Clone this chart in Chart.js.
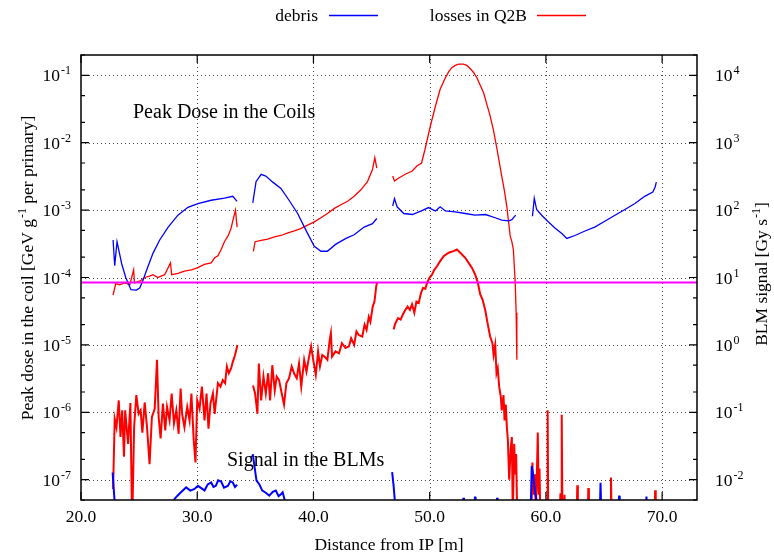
<!DOCTYPE html>
<html>
<head>
<meta charset="utf-8">
<script src="https://cdn.jsdelivr.net/npm/chart.js@4.4.1/dist/chart.umd.min.js"></script>
<style>
  html, body { margin: 0; padding: 0; background: #fff; }
  #wrap { width: 774px; height: 553px; }
</style>
</head>
<body>
<div id="wrap"><canvas id="myChart" width="774" height="553"></canvas></div>
<script>
// peak dose in the coils, debris (left axis, GeV/g per primary); null = gap between magnets
const debrisCoilX = [22.76, 22.9, 23.1, 23.5, 23.85, 24.3, 24.76, 25.05, 25.3, 25.77, 26.2, 26.77, 27.5, 28.34, 29.2, 30.06, 31.2, 32.34, 33.06, 33.43,
  34.1,
  34.78, 35.06, 35.5, 35.9, 36.5, 37.2, 37.9, 38.64, 39.36, 40.07, 40.65, 41.2, 41.9, 42.8, 43.5, 44.36, 45.08, 45.45,
  46.1,
  46.82, 46.97, 47.2, 47.77, 48.5, 49.34, 49.9, 50.5, 50.9, 51.35, 52.2, 53.06, 53.9, 54.8, 55.64, 56.2, 56.8, 57.07, 57.4,
  58.1,
  58.84, 59.0, 59.2, 59.64, 60.2, 60.8, 61.37, 61.8, 62.5, 63.36, 64.2, 65.1, 65.94, 66.8, 67.66, 68.5, 69.2, 69.4, 69.5]
const debrisCoilY = [3.6e-4, 1.5e-4, 3.4e-4, 1.6e-4, 1.0e-4, 6.6e-5, 6.5e-5, 7.0e-5, 8.8e-5, 1.47e-4, 2.3e-4, 3.6e-4, 5.6e-4, 8.4e-4, 1.1e-3, 1.25e-3, 1.4e-3, 1.5e-3, 1.6e-3, 1.35e-3,
  null,
  1.28e-3, 2.64e-3, 3.4e-3, 3.2e-3, 2.6e-3, 2.1e-3, 1.4e-3, 8.9e-4, 5.0e-4, 2.9e-4, 2.45e-4, 2.45e-4, 3.1e-4, 3.8e-4, 4.3e-4, 5.6e-4, 6.3e-4, 7.5e-4,
  null,
  1.15e-3, 1.48e-3, 1.12e-3, 8.9e-4, 8.6e-4, 9.8e-4, 1.09e-3, 9.7e-4, 1.12e-3, 9.7e-4, 9.4e-4, 8.9e-4, 8.4e-4, 8.6e-4, 7.7e-4, 7.1e-4, 6.9e-4, 7.2e-4, 8.4e-4,
  null,
  8.1e-4, 1.5e-3, 1.02e-3, 8.4e-4, 6.7e-4, 5.4e-4, 4.5e-4, 3.8e-4, 4.2e-4, 4.9e-4, 5.6e-4, 6.9e-4, 8.4e-4, 1.02e-3, 1.25e-3, 1.6e-3, 1.85e-3, 2.2e-3, 2.6e-3]

// peak dose in the coils, losses in Q2B (left axis)
const lossCoilX = [22.76, 22.99, 23.33, 23.76, 24.2, 24.53, 24.6, 25.05, 25.48, 25.9, 26.2, 26.6, 27.2, 27.7, 27.8, 28.34, 28.9, 29.5, 30.06, 30.6, 31.2, 31.5, 31.78, 32.06, 32.34, 32.64, 32.9, 33.15, 33.29, 33.43,
  34.1,
  34.83, 34.98, 35.5, 36.07, 36.64, 37.2, 37.8, 38.35, 38.9, 39.5, 40.07, 40.64, 41.2, 41.8, 42.36, 42.94, 43.5, 44.08, 44.65, 45.08, 45.28, 45.45,
  46.1,
  46.82, 46.97, 47.34, 47.9, 48.5, 48.9, 49.3, 49.6, 50.06, 50.5, 50.9, 51.35, 51.63, 51.9, 52.2, 52.5, 52.9, 53.2, 53.5, 53.78, 54.06, 54.64, 54.92, 55.2, 55.5, 55.8, 56.0, 56.2, 56.44, 56.64, 56.93, 57.07, 57.2, 57.36, 57.44, 57.5]
const lossCoilY = [5.5e-5, 8.1e-5, 7.8e-5, 8.3e-5, 7.8e-5, 1.3e-4, 8.3e-5, 8.8e-5, 1.0e-4, 1.05e-4, 1.1e-4, 1.0e-4, 1.1e-4, 1.65e-4, 1.1e-4, 1.15e-4, 1.24e-4, 1.3e-4, 1.4e-4, 1.56e-4, 1.65e-4, 1.96e-4, 2.1e-4, 2.6e-4, 3.4e-4, 4.1e-4, 5.3e-4, 8.0e-4, 1.0e-3, 5.6e-4,
  null,
  2.45e-4, 3.4e-4, 3.55e-4, 3.7e-4, 4.0e-4, 4.2e-4, 4.6e-4, 4.9e-4, 5.3e-4, 6.0e-4, 6.7e-4, 7.7e-4, 8.9e-4, 1.06e-3, 1.2e-3, 1.35e-3, 1.6e-3, 2.0e-3, 2.65e-3, 4.0e-3, 6.0e-3, 4.2e-3,
  null,
  3.2e-3, 2.7e-3, 3.0e-3, 3.4e-3, 3.8e-3, 4.5e-3, 5.0e-3, 8.0e-3, 1.77e-2, 3.5e-2, 6.2e-2, 9.2e-2, 0.112, 0.13, 0.14, 0.146, 0.146, 0.14, 0.125, 0.11, 9.2e-2, 5.5e-2, 3.7e-2, 2.5e-2, 1.5e-2, 7.9e-3, 5.0e-3, 3.2e-3, 1.9e-3, 1.12e-3, 4.1e-4, 3.4e-4, 2.6e-4, 8.3e-5, 3.0e-5, 6.0e-6]

// BLM signal, losses in Q2B (right axis, Gy/s)
const lossBlmX = [22.76, 22.9, 23.05, 23.25, 23.4, 23.54, 23.7, 23.8, 24.05, 24.25, 24.4, 24.57, 24.76, 24.96, 25.13, 25.28, 25.48, 25.68, 25.9, 26.1, 26.34, 26.54, 26.68, 26.85, 27.05, 27.25, 27.4, 27.62, 27.8, 28.0, 28.2, 28.4, 28.57, 28.7, 28.9, 29.14, 29.34, 29.5, 29.7, 29.85, 30.0, 30.2, 30.4, 30.63, 30.8, 30.97, 31.14, 31.35, 31.5, 31.78, 32.0, 32.2, 32.4, 32.55, 32.72, 32.92, 33.06, 33.25, 33.46,
  34.1,
  34.8, 34.98, 35.18, 35.3, 35.5, 35.7, 35.9, 36.1, 36.27, 36.46, 36.67, 36.84, 37.04, 37.27, 37.47, 37.67, 37.9, 38.13, 38.33, 38.56, 38.76, 38.95, 39.2, 39.4, 39.6, 39.8, 39.98, 40.2, 40.4, 40.56, 40.76, 40.96, 41.2, 41.4, 41.5, 41.6, 41.9, 42.2, 42.45, 42.76, 43.05, 43.24, 43.5, 43.7, 43.9, 44.2, 44.4, 44.57, 44.76, 44.9, 45.1, 45.25, 45.4, 45.47,
  46.1,
  46.9, 47.05, 47.28, 47.5, 47.68, 47.9, 48.1, 48.3, 48.48, 48.68, 48.86, 49.06, 49.25, 49.43, 49.63, 49.77, 50.0, 50.2, 50.4, 50.63, 50.9, 51.2, 51.63, 52.06, 52.34, 52.63, 53.06, 53.35, 53.63, 53.92, 54.15, 54.35, 54.55, 54.78, 54.98, 55.2, 55.4, 55.5, 55.64, 55.75, 55.86, 55.98, 56.12, 56.2, 56.35, 56.44, 56.55, 56.64, 56.73, 56.84, 56.98, 57.07, 57.15, 57.27, 57.36, 57.44, 57.53,
  58.75, 58.84, 58.9, 59.05, 59.12, 59.2, 59.3, 59.38, 59.45, 59.52, 60.1, 60.15, 60.2, 61.2, 61.25, 61.3, 61.36, 61.42, 61.55, 61.6, 61.65, 62.65, 62.7, 62.75, 63.6, 63.65, 63.7, 65.55, 65.6, 65.65, 69.35, 69.4, 69.45]
const lossBlmY = [0.0073, 0.08, 0.06, 0.15, 0.043, 0.107, 0.022, 0.107, 0.034, 0.137, 0.002, 0.06, 0.18, 0.095, 0.107, 0.05, 0.14, 0.06, 0.017, 0.085, 0.113, 0.6, 0.085, 0.041, 0.135, 0.054, 0.12, 0.076, 0.19, 0.068, 0.107, 0.048, 0.225, 0.095, 0.06, 0.12, 0.076, 0.19, 0.038, 0.018, 0.15, 0.113, 0.24, 0.076, 0.19, 0.057, 0.135, 0.19, 0.095, 0.27, 0.24, 0.3, 0.27, 0.48, 0.38, 0.45, 0.56, 0.7, 1.0,
  null,
  0.25, 0.19, 0.095, 0.53, 0.15, 0.34, 0.19, 0.38, 0.15, 0.5, 0.21, 0.34, 0.3, 0.19, 0.13, 0.27, 0.32, 0.48, 0.38, 0.32, 0.53, 0.24, 0.6, 0.4, 0.63, 0.95, 0.6, 0.36, 0.8, 0.48, 0.71, 0.67, 0.6, 1.19, 1.5, 0.67, 0.8, 0.75, 1.06, 0.9, 0.95, 1.26, 1.0, 1.58, 1.4, 1.33, 2.0, 1.67, 2.6, 2.2, 3.7, 4.4, 7.4, 8.4,
  null,
  1.7, 2.1, 2.5, 2.37, 2.8, 3.3, 3.7, 3.3, 4.0, 3.0, 4.4, 4.2, 5.9, 7.0, 6.8, 8.3, 10, 11, 13, 14.7, 17.5, 20.7, 23.3, 24.6, 26, 23.3, 19.6, 16.5, 14, 11, 8.3, 5.6, 4.7, 3.3, 2.1, 1.33, 1.06, 0.71, 1.0, 0.38, 0.45, 0.24, 0.17, 0.107, 0.18, 0.076, 0.13, 0.06, 0.038, 0.01, 0.03, 0.043, 0.003, 0.034, 0.012, 0.024, 0.003,
  0.003, 0.018, 0.006, 0.012, 0.004, 0.008, 0.05, 0.006, 0.0146, 0.003, 0.003, 0.107, 0.003, 0.003, 0.0063, 0.003, 0.092, 0.003, 0.003, 0.006, 0.003, 0.003, 0.0083, 0.003, 0.003, 0.0075, 0.003, 0.003, 0.0108, 0.003, 0.003, 0.007, 0.003]

// BLM signal, debris (right axis)
const debrisBlmX = [22.72, 22.8, 23.05, 27.85, 28.05, 28.3, 28.6, 29.05, 29.4, 29.77, 30.06, 30.35, 30.63, 30.9, 31.2, 31.4, 31.6, 31.8, 32.06, 32.3, 32.63, 32.85, 33.06, 33.25, 33.43,
  34.1,
  34.78, 34.9, 35.1, 35.35, 35.6, 35.9, 36.2, 36.5, 36.76, 37.0, 37.2, 37.35, 37.5, 37.6,
  46.1,
  46.77, 46.9, 47.1, 52.85, 52.9, 52.95, 53.85, 53.9, 53.95, 55.75, 55.8, 55.85,
  58.7, 58.78, 58.9, 59.07, 59.3, 64.65, 64.7, 64.75, 66.25, 66.3, 66.35, 68.6, 68.65, 68.7]
const debrisBlmY = [0.0128, 0.008, 0.002, 0.003, 0.0052, 0.0058, 0.0065, 0.0077, 0.0069, 0.0073, 0.0081, 0.0075, 0.0069, 0.0085, 0.0091, 0.0078, 0.0081, 0.0098, 0.0094, 0.0076, 0.0081, 0.0095, 0.0091, 0.0078, 0.0084,
  null,
  0.024, 0.017, 0.0097, 0.0085, 0.0069, 0.0064, 0.0058, 0.0066, 0.0069, 0.0057, 0.0061, 0.0065, 0.0052, 0.003,
  null,
  0.013, 0.008, 0.003, 0.004, 0.0054, 0.004, 0.004, 0.0056, 0.004, 0.004, 0.0054, 0.004,
  0.004, 0.016, 0.012, 0.0065, 0.004, 0.004, 0.009, 0.004, 0.004, 0.0058, 0.004, 0.004, 0.0056, 0.004]

// BLM threshold (right axis)
const thresholdX = [20, 73]
const thresholdY = [8.4, 8.4]

const leftExps = [-1, -2, -3, -4, -5, -6, -7]
const rightExps = [4, 3, 2, 1, 0, -1, -2]
const xTicks = [20, 30, 40, 50, 60, 70]

const FONT = '"Liberation Serif", "Times New Roman", serif'

function toPoints(xs, ys) {
  return xs.map((x, i) => ({ x: x, y: ys[i] }))
}

// text made of normal and superscript pieces, optionally rotated
function drawRich(ctx, parts, x, y, align, rot) {
  const size = 17.5, supSize = 12
  let total = 0
  parts.forEach(p => {
    ctx.font = (p.sup ? supSize : size) + 'px ' + FONT
    p.w = ctx.measureText(p.t).width + (p.sup ? 1 : 0)
    total += p.w
  })
  ctx.save()
  ctx.translate(x, y)
  if (rot) ctx.rotate(rot)
  let cx = align === 'right' ? -total : align === 'center' ? -total / 2 : 0
  ctx.textAlign = 'left'
  ctx.textBaseline = 'alphabetic'
  ctx.fillStyle = '#000'
  parts.forEach(p => {
    ctx.font = (p.sup ? supSize : size) + 'px ' + FONT
    ctx.fillText(p.t, cx + (p.sup ? 1 : 0), p.sup ? -7 : 0)
    cx += p.w
  })
  ctx.restore()
}

const gnuplotLook = {
  id: 'gnuplotLook',
  beforeDraw(chart) {
    const ctx = chart.ctx
    ctx.save()
    ctx.fillStyle = '#fff'
    ctx.fillRect(0, 0, chart.width, chart.height)
    ctx.restore()
  },
  beforeDatasetsDraw(chart) {
    const { ctx, chartArea: a, scales } = chart
    ctx.save()
    ctx.strokeStyle = '#444'
    ctx.lineWidth = 1
    ctx.setLineDash([1, 3])
    leftExps.forEach(e => {
      const y = Math.round(scales.y.getPixelForValue(Math.pow(10, e))) + 0.5
      ctx.beginPath(); ctx.moveTo(a.left, y); ctx.lineTo(a.right, y); ctx.stroke()
    })
    xTicks.slice(1).forEach(v => {
      const x = Math.round(scales.x.getPixelForValue(v)) + 0.5
      ctx.beginPath(); ctx.moveTo(x, a.top); ctx.lineTo(x, a.bottom); ctx.stroke()
    })
    ctx.restore()
  },
  afterDatasetsDraw(chart) {
    const { ctx, chartArea: a, scales } = chart
    ctx.save()
    ctx.strokeStyle = '#000'
    ctx.lineWidth = 1.5
    ctx.strokeRect(a.left, a.top, a.right - a.left, a.bottom - a.top)

    // ticks
    ctx.lineWidth = 1.2
    ctx.beginPath()
    for (let e = -8; e <= 0; e++) {
      [1, 2, 5].forEach(m => {
        const v = m * Math.pow(10, e)
        if (v < scales.y.min || v > scales.y.max) return
        const y = scales.y.getPixelForValue(v)
        const len = m === 1 ? 8 : 4
        ctx.moveTo(a.left, y); ctx.lineTo(a.left + len, y)
        ctx.moveTo(a.right, y); ctx.lineTo(a.right - len, y)
      })
    }
    xTicks.forEach(v => {
      const x = scales.x.getPixelForValue(v)
      ctx.moveTo(x, a.bottom); ctx.lineTo(x, a.bottom - 8)
      ctx.moveTo(x, a.top); ctx.lineTo(x, a.top + 8)
    })
    ctx.stroke()

    // tick labels
    leftExps.forEach(e => {
      const y = scales.y.getPixelForValue(Math.pow(10, e))
      drawRich(ctx, [{ t: '10' }, { t: String(e), sup: true }], 71, y + 6, 'right')
    })
    rightExps.forEach(e => {
      const y = scales.y2.getPixelForValue(Math.pow(10, e))
      drawRich(ctx, [{ t: '10' }, { t: String(e), sup: true }], 715, y + 6, 'left')
    })
    xTicks.forEach(v => {
      const x = scales.x.getPixelForValue(v)
      drawRich(ctx, [{ t: v.toFixed(1) }], x, 522, 'center')
    })

    // axis titles
    drawRich(ctx, [{ t: 'Distance from IP [m]' }], (a.left + a.right) / 2, 550, 'center')
    drawRich(ctx, [{ t: 'Peak dose in the coil [GeV g' }, { t: '-1', sup: true }, { t: ' per primary]' }], 33, 268, 'center', -Math.PI / 2)
    drawRich(ctx, [{ t: 'BLM signal [Gy s' }, { t: '-1', sup: true }, { t: ']' }], 767, 274, 'center', -Math.PI / 2)

    // panel labels
    ctx.font = '20px ' + FONT
    ctx.fillStyle = '#000'
    ctx.textAlign = 'left'
    ctx.textBaseline = 'alphabetic'
    ctx.fillText('Peak Dose in the Coils', 133, 118)
    ctx.fillText('Signal in the BLMs', 227, 466)

    // legend
    drawRich(ctx, [{ t: 'debris' }], 318, 21, 'right')
    drawRich(ctx, [{ t: 'losses in Q2B' }], 527, 21, 'right')
    ctx.lineWidth = 1.3
    ctx.strokeStyle = '#0000ff'
    ctx.beginPath(); ctx.moveTo(329, 15.5); ctx.lineTo(378, 15.5); ctx.stroke()
    ctx.strokeStyle = '#ff0000'
    ctx.beginPath(); ctx.moveTo(537, 15.5); ctx.lineTo(586, 15.5); ctx.stroke()
    ctx.restore()
  }
}

const ctx = document.getElementById('myChart')

new Chart(ctx, {
  type: 'line',
  data: {
    datasets: [
      {
        label: 'BLM threshold',
        data: toPoints(thresholdX, thresholdY),
        yAxisID: 'y2',
        borderColor: '#ff00ff',
        borderWidth: 2
      },
      {
        label: 'debris',
        data: toPoints(debrisCoilX, debrisCoilY),
        yAxisID: 'y',
        borderColor: '#0000ff',
        borderWidth: 1.3
      },
      {
        label: 'losses in Q2B',
        data: toPoints(lossCoilX, lossCoilY),
        yAxisID: 'y',
        borderColor: '#ff0000',
        borderWidth: 1.3
      },
      {
        label: 'debris BLM',
        data: toPoints(debrisBlmX, debrisBlmY),
        yAxisID: 'y2',
        borderColor: '#0000ff',
        borderWidth: 2
      },
      {
        label: 'losses in Q2B BLM',
        data: toPoints(lossBlmX, lossBlmY),
        yAxisID: 'y2',
        borderColor: '#ff0000',
        borderWidth: 2
      }
    ]
  },
  options: {
    responsive: false,
    animation: false,
    spanGaps: false,
    layout: { padding: { left: 81, right: 77, top: 55, bottom: 53 } },
    elements: { point: { radius: 0 }, line: { tension: 0 } },
    scales: {
      x: { type: 'linear', min: 20, max: 73, display: false },
      y: { type: 'logarithmic', position: 'left', min: 5e-8, max: 2e-1, display: false },
      y2: { type: 'logarithmic', position: 'right', min: 5e-3, max: 2e4, display: false }
    },
    plugins: {
      legend: { display: false },
      tooltip: { enabled: false }
    }
  },
  plugins: [gnuplotLook]
})
</script>
</body>
</html>
